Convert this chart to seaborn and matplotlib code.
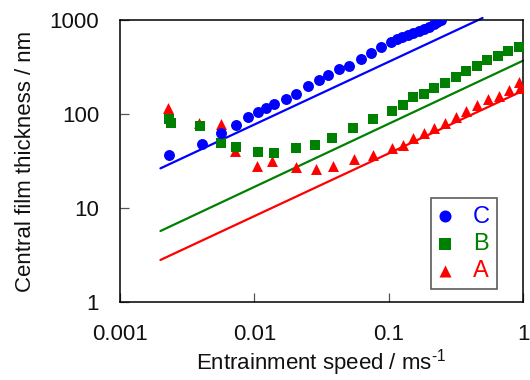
import numpy as np
import pandas as pd
import matplotlib
matplotlib.use("Agg")
import matplotlib.pyplot as plt
import seaborn as sns

# ---- data ----
speed_C = [0.00233, 0.00405, 0.00565, 0.00726, 0.00897, 0.01066, 0.01229, 0.01393,
           0.01722, 0.02045, 0.0251, 0.0303, 0.0352, 0.0430, 0.0510, 0.0620, 0.0743,
           0.0883, 0.1037, 0.1148, 0.1265, 0.1394, 0.1527, 0.1675, 0.1836, 0.2011,
           0.2179, 0.2305, 0.2443]
film_C = [36.6, 47.6, 62.4, 76.4, 92, 105.7, 115, 127.6, 145.6, 161.9, 198.6, 230,
          258, 299, 327, 387, 449, 516, 584, 623, 655, 688, 722, 764, 808, 849, 899,
          944, 1000]

speed_B = [0.00233, 0.00238, 0.00394, 0.00565, 0.00726, 0.01066, 0.01393, 0.0203,
           0.0283, 0.0381, 0.0543, 0.0762, 0.1060, 0.128, 0.152, 0.182, 0.217, 0.262,
           0.316, 0.375, 0.453, 0.543, 0.656, 0.778, 0.940]
film_B = [88.5, 80.7, 74.5, 48.8, 44.2, 39.5, 38.2, 43.2, 46.8, 56.0, 70.5, 89.2,
          108.4, 125.5, 150.3, 161.8, 189, 212, 245, 284, 324, 375, 414, 464, 520]

speed_A = [0.00227, 0.0039, 0.00562, 0.00718, 0.01042, 0.01361, 0.0204, 0.0286,
           0.0383, 0.0550, 0.0762, 0.1066, 0.1288, 0.1528, 0.1835, 0.219, 0.264,
           0.318, 0.379, 0.455, 0.547, 0.660, 0.784, 0.940, 0.955]
film_A = [114.8, 79.6, 77.6, 40.7, 28.0, 31.4, 27.1, 25.8, 28.0, 33.5, 36.9, 43.2,
          46.5, 55.1, 62.3, 70.5, 80.8, 92.2, 107.6, 123.8, 143.3, 156.6, 180, 218, 190]

# predicted film thickness lines (end points)
line_C_speed = [0.002, 0.5]
line_C = [26.4, 1050]
line_B_speed = [0.002, 1.0]
line_B = [5.69, 369]
line_A_speed = [0.002, 1.0]
line_A = [2.80, 177]

series = ["C", "B", "A"]
colors = {"C": "#0000FF", "B": "#008000", "A": "#FF0000"}
markers = {"C": "o", "B": "s", "A": "^"}

x_ticks = [0.001, 0.01, 0.1, 1]
x_tick_labels = ["0.001", "0.01", "0.1", "1"]
y_ticks = [1, 10, 100, 1000]
y_tick_labels = ["1", "10", "100", "1000"]

# ---- figure ----
sns.set_theme(style="white")
plt.rcParams["font.family"] = ["Liberation Sans", "DejaVu Sans"]

fig = plt.figure(figsize=(5.3, 3.8), dpi=100)
ax = fig.add_axes([120 / 530, 1 - 302 / 380, 403 / 530, 282 / 380])
ax.set_xscale("log")
ax.set_yscale("log")

lines = {"C": (line_C_speed, line_C), "B": (line_B_speed, line_B), "A": (line_A_speed, line_A)}
for k in ["A", "B", "C"]:
    xs, ys = lines[k]
    sns.lineplot(x=xs, y=ys, ax=ax, color=colors[k], linewidth=1.6, legend=False,
                 clip_on=False, zorder=2)

pts = {"C": (speed_C, film_C), "B": (speed_B, film_B), "A": (speed_A, film_A)}
for k in ["A", "B", "C"]:
    xs, ys = pts[k]
    sns.scatterplot(x=xs, y=ys, ax=ax, color=colors[k], marker=markers[k], s=62,
                    linewidth=0, label=k, zorder=3)

ax.set_xlim(0.001, 1)
ax.set_ylim(1, 1000)
ax.xaxis.set_major_locator(matplotlib.ticker.FixedLocator(x_ticks))
ax.yaxis.set_major_locator(matplotlib.ticker.FixedLocator(y_ticks))
ax.xaxis.set_minor_locator(matplotlib.ticker.NullLocator())
ax.yaxis.set_minor_locator(matplotlib.ticker.NullLocator())
ax.set_xticklabels(x_tick_labels)
ax.set_yticklabels(y_tick_labels)
ax.tick_params(axis="both", which="major", direction="in", length=6.5, width=0.9,
               color="#555555", labelsize=16, labelcolor="#111111",
               bottom=True, left=True, top=False, right=False)
ax.tick_params(axis="x", pad=16)
ax.tick_params(axis="y", pad=15)

for sp in ax.spines.values():
    sp.set_color("black")
    sp.set_linewidth(1.1)

ax.set_xlabel("Entrainment speed / ms$^{\\mathregular{\u20101}}$", fontsize=16, labelpad=1,
              color="#111111")
ax.set_ylabel("Central film thickness / nm", fontsize=16, labelpad=10, color="#111111")

h, l = ax.get_legend_handles_labels()
order = [l.index(s) for s in series]
leg = ax.legend([h[i] for i in order], [l[i] for i in order], loc="lower right",
                bbox_to_anchor=(0.9355, 0.046), borderaxespad=0, fontsize=17,
                frameon=True, fancybox=False, edgecolor="#333333",
                handlelength=0.64, handletextpad=0.85, borderpad=0.3,
                labelspacing=0.22, markerscale=1.1)
leg.get_frame().set_linewidth(1.2)
for txt, s in zip(leg.get_texts(), series):
    txt.set_color(colors[s])

fig.savefig("out.png", dpi=100)
